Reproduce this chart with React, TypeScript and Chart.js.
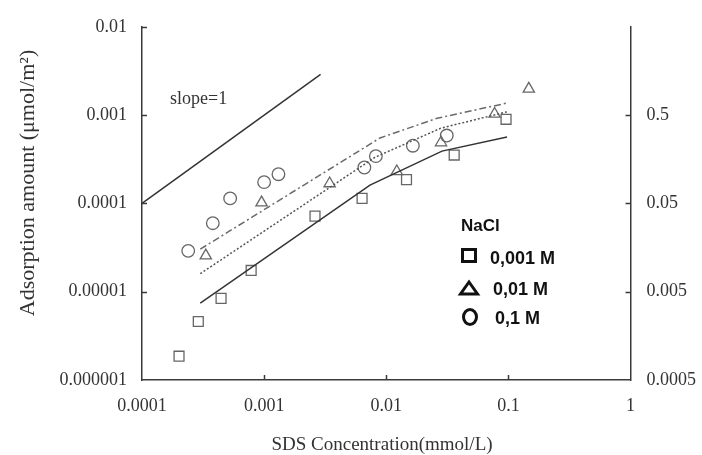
import React, { useEffect, useRef } from 'react';
import { Chart, registerables } from 'chart.js';

Chart.register(...registerables);

// ---- axis ticks ----
const xTickValues = [0.0001, 0.001, 0.01, 0.1, 1];
const xTickLabels = ['0.0001', '0.001', '0.01', '0.1', '1'];
const yTickValues = [0.000001, 0.00001, 0.0001, 0.001, 0.01];
const yTickLabels = ['0.000001', '0.00001', '0.0001', '0.001', '0.01'];
const y2TickValues = [0.0005, 0.005, 0.05, 0.5];
const y2TickLabels = ['0.0005', '0.005', '0.05', '0.5'];

// ---- titles / legend ----
const xTitle = 'SDS Concentration(mmol/L)';
const yTitle = 'Adsorption amount (\u03bcmol/m\u00b2)';
const legendTitle = 'NaCl';
const seriesNames = ['0,001 M', '0,01 M', '0,1 M'];
const slopeLabel = 'slope=1';

// ---- measured data: 0.001 M (squares) ----
const sqX = [0.000201, 0.000289, 0.000444, 0.000783, 0.00261, 0.00634, 0.01465, 0.036, 0.0957];
const sqY = [0.00000186, 0.0000046, 0.0000084, 0.0000174, 0.0000718, 0.000114, 0.000186, 0.000353, 0.000896];

// ---- measured data: 0.01 M (triangles) ----
const triX = [0.000333, 0.000953, 0.00344, 0.0122, 0.0281, 0.0771, 0.147];
const triY = [0.0000256, 0.000102, 0.000168, 0.00023, 0.000489, 0.00103, 0.00198];

// ---- measured data: 0.1 M (circles) ----
const cirX = [0.000239, 0.00038, 0.000527, 0.001, 0.00131, 0.00662, 0.00822, 0.01652, 0.0313];
const cirY = [0.000029, 0.0000597, 0.000114, 0.000174, 0.000214, 0.000255, 0.000343, 0.00045, 0.000587];

// ---- model curves ----
const fitSolidX = [0.0003, 0.00736, 0.0286, 0.0975];
const fitSolidY = [0.00000741, 0.000161, 0.000391, 0.000565];
const fitDotX = [0.0003, 0.00809, 0.028, 0.0978];
const fitDotY = [0.000016, 0.000333, 0.000711, 0.00109];
const fitDashDotX = [0.0003, 0.00889, 0.026, 0.0978];
const fitDashDotY = [0.0000303, 0.000551, 0.000919, 0.00137];

// ---- slope = 1 reference line ----
const slopeX = [0.0001, 0.0029];
const slopeY = [0.0001, 0.0029];

const zip = (xs: number[], ys: number[]) => xs.map((x, i) => ({ x, y: ys[i] }));

const labelFor = (values: number[], labels: string[]) => (v: number | string) => {
  const n = Number(v);
  const i = values.findIndex((t) => Math.abs(Math.log10(t) - Math.log10(n)) < 1e-6);
  return i >= 0 ? labels[i] : '';
};

const AXIS_COLOR = '#3a3a3a';
const TEXT_COLOR = '#333333';
const MARKER_COLOR = '#666666';
const SERIF = '"Liberation Serif", "Times New Roman", serif';
const SANS = '"Liberation Sans", Arial, sans-serif';

const decorPlugin = {
  id: 'decor',
  afterDraw(chart: any) {
    const { ctx, chartArea } = chart;
    const xs = chart.scales.x;
    const ys = chart.scales.y;
    const y2s = chart.scales.y2;
    ctx.save();
    // inward tick marks
    ctx.strokeStyle = AXIS_COLOR;
    ctx.lineWidth = 1.5;
    const tl = 5;
    ctx.beginPath();
    [0.01, 0.001, 0.0001, 0.00001].forEach((v) => {
      const p = Math.round(ys.getPixelForValue(v)) + 0.5;
      ctx.moveTo(chartArea.left, p);
      ctx.lineTo(chartArea.left + tl, p);
    });
    [0.001, 0.01, 0.1].forEach((v) => {
      const p = Math.round(xs.getPixelForValue(v)) + 0.5;
      ctx.moveTo(p, chartArea.bottom);
      ctx.lineTo(p, chartArea.bottom - tl);
    });
    [0.5, 0.05, 0.005].forEach((v) => {
      const p = Math.round(y2s.getPixelForValue(v)) + 0.5;
      ctx.moveTo(chartArea.right, p);
      ctx.lineTo(chartArea.right - tl, p);
    });
    ctx.stroke();

    // axis titles
    ctx.fillStyle = TEXT_COLOR;
    ctx.textAlign = 'center';
    ctx.textBaseline = 'middle';
    ctx.font = `19px ${SERIF}`;
    ctx.fillText(xTitle, 382, 445);
    ctx.save();
    ctx.translate(28, 183);
    ctx.rotate(-Math.PI / 2);
    ctx.font = `22px ${SERIF}`;
    ctx.fillText(yTitle, 0, 0);
    ctx.restore();

    // slope label
    ctx.textAlign = 'left';
    ctx.font = `18px ${SERIF}`;
    ctx.fillText(slopeLabel, 170, 99);

    // legend
    ctx.fillStyle = '#111111';
    ctx.strokeStyle = '#111111';
    ctx.font = `bold 17px ${SANS}`;
    ctx.fillText(legendTitle, 461, 226);
    ctx.font = `bold 18px ${SANS}`;
    ctx.lineWidth = 3;
    ctx.strokeRect(462.5, 249.5, 13, 12);
    ctx.fillText(seriesNames[0], 490, 259);
    ctx.beginPath();
    ctx.moveTo(469, 282);
    ctx.lineTo(477.5, 294);
    ctx.lineTo(460.5, 294);
    ctx.closePath();
    ctx.stroke();
    ctx.fillText(seriesNames[1], 493, 290);
    ctx.beginPath();
    ctx.ellipse(470, 317, 6.5, 7.5, 0, 0, Math.PI * 2);
    ctx.stroke();
    ctx.fillText(seriesNames[2], 495, 319);
    ctx.restore();
  },
};

export default function App() {
  const ref = useRef<HTMLCanvasElement | null>(null);
  useEffect(() => {
    if (!ref.current) return;
    const markerBase = {
      showLine: false,
      borderColor: MARKER_COLOR,
      backgroundColor: 'rgba(0,0,0,0)',
      pointBorderWidth: 1.3,
      pointBorderColor: MARKER_COLOR,
      pointBackgroundColor: 'rgba(0,0,0,0)',
      clip: false as any,
    };
    const lineBase = {
      showLine: true,
      pointRadius: 0,
      fill: false,
      tension: 0,
      clip: false as any,
    };
    const chart = new Chart(ref.current, {
      type: 'scatter',
      data: {
        datasets: [
          { ...lineBase, label: 'slope', data: zip(slopeX, slopeY), borderColor: '#333333', borderWidth: 1.5 },
          { ...lineBase, label: 'fit 0.001', data: zip(fitSolidX, fitSolidY), borderColor: '#333333', borderWidth: 1.5 },
          { ...lineBase, label: 'fit 0.01', data: zip(fitDotX, fitDotY), borderColor: '#555555', borderWidth: 1.5, borderDash: [2, 2] },
          { ...lineBase, label: 'fit 0.1', data: zip(fitDashDotX, fitDashDotY), borderColor: '#6a6a6a', borderWidth: 1.5, borderDash: [7, 3, 2, 3] },
          { ...markerBase, label: seriesNames[0], data: zip(sqX, sqY), pointStyle: 'rect', pointRadius: 7 },
          { ...markerBase, label: seriesNames[1], data: zip(triX, triY), pointStyle: 'triangle', pointRadius: 6.5 },
          { ...markerBase, label: seriesNames[2], data: zip(cirX, cirY), pointStyle: 'circle', pointRadius: 6.3 },
        ],
      },
      options: {
        animation: false,
        responsive: false,
        maintainAspectRatio: false,
        events: [],
        layout: { padding: { top: 20, left: 0, right: 0, bottom: 0 } },
        plugins: { legend: { display: false }, tooltip: { enabled: false } },
        scales: {
          x: {
            type: 'logarithmic',
            position: 'bottom',
            min: 0.0001,
            max: 1,
            grid: { display: false, drawTicks: false },
            border: { display: true, color: AXIS_COLOR, width: 1.5 },
            afterBuildTicks: (s: any) => { s.ticks = xTickValues.map((v) => ({ value: v })); },
            afterFit: (s: any) => { s.height = 75; },
            ticks: {
              autoSkip: false,
              maxRotation: 0,
              padding: 15,
              color: TEXT_COLOR,
              font: { family: SERIF, size: 18 },
              callback: labelFor(xTickValues, xTickLabels),
            },
          },
          y: {
            type: 'logarithmic',
            position: 'left',
            min: 0.000001,
            max: 0.01,
            grid: { display: false, drawTicks: false },
            border: { display: true, color: AXIS_COLOR, width: 1.5 },
            afterBuildTicks: (s: any) => { s.ticks = yTickValues.map((v) => ({ value: v })); },
            afterFit: (s: any) => { s.width = 142; },
            ticks: {
              autoSkip: false,
              padding: 15,
              color: TEXT_COLOR,
              font: { family: SERIF, size: 18 },
              callback: labelFor(yTickValues, yTickLabels),
            },
          },
          y2: {
            type: 'logarithmic',
            position: 'right',
            min: 0.0005,
            max: 5,
            grid: { display: false, drawTicks: false },
            border: { display: true, color: AXIS_COLOR, width: 1.5 },
            afterBuildTicks: (s: any) => { s.ticks = y2TickValues.map((v) => ({ value: v })); },
            afterFit: (s: any) => { s.width = 71.5; },
            ticks: {
              autoSkip: false,
              padding: 16,
              color: TEXT_COLOR,
              font: { family: SERIF, size: 18 },
              callback: labelFor(y2TickValues, y2TickLabels),
            },
          },
        },
      } as any,
      plugins: [decorPlugin],
    });
    return () => chart.destroy();
  }, []);
  return (
    <div style={{ position: 'fixed', left: 0, top: 0, width: 702, height: 455, background: '#ffffff' }}>
      <canvas ref={ref} width={702} height={455} style={{ display: 'block' }} />
    </div>
  );
}
